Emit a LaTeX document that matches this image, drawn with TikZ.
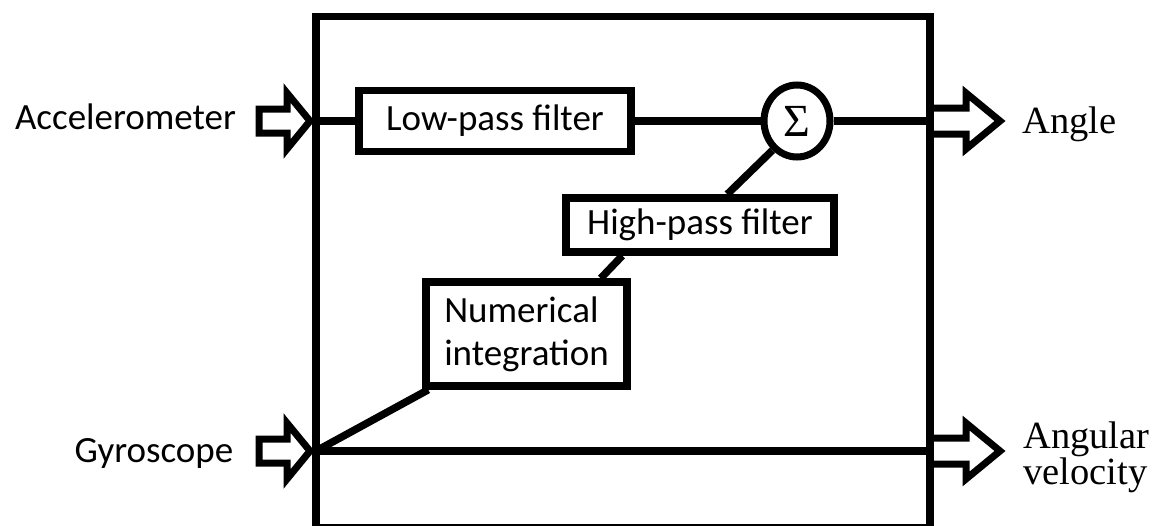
\documentclass[tikz,border=0pt]{standalone}
\usepackage{fontspec}
\setmainfont{Carlito}
\newfontfamily\serifl{Liberation Serif}
\usetikzlibrary{shapes.geometric}
\begin{document}
\begin{tikzpicture}[x=1pt,y=-1pt,
  ln/.style={line width=7.5pt},
  blk/.style={draw, line width=7.5pt, fill=white, inner sep=0pt, align=left, font=\fontsize{37pt}{43pt}\selectfont},
  lbl/.style={font=\fontsize{37pt}{44pt}\selectfont, inner sep=0pt},
  slbl/.style={font=\serifl\fontsize{38.5pt}{36pt}\selectfont, inner sep=0pt, align=left},
  inarrow/.pic={\draw[line width=7pt, line join=miter] (-57,-12) -- (-29,-12) -- (-29,-28) -- (-6,0) -- (-29,28) -- (-29,12) -- (-57,12) -- cycle;},
  outarrow/.pic={\draw[line width=7pt, line join=miter] (0,-13) -- (36,-13) -- (36,-28) -- (70,0) -- (36,28) -- (36,13) -- (0,13);}
]
\useasboundingbox (0,0) rectangle (1159,525);
\node[draw, line width=7.5pt, minimum width=614pt, minimum height=511.5pt, inner sep=0pt] (sys) at (623,272.25) {};

\node[blk, minimum width=272pt, minimum height=61pt] (lp) at (495,121) {Low-pass filter};
\node[blk, minimum width=268pt, minimum height=54pt] (hp) at (700,225) {High-pass filter};
\node[blk, minimum width=201pt, minimum height=104pt] (ni) at (526.5,334) {Numerical\\integration};
\node[draw, ellipse, line width=7pt, minimum width=66pt, minimum height=72pt, inner sep=0pt, font=\serifl\fontsize{46pt}{46pt}\selectfont] (sig) at (797,121) {Σ};

\coordinate (acc) at (316,121);
\coordinate (angout) at (930,121);
\coordinate (gyr) at (316,451);
\coordinate (avout) at (930,451);

\draw[ln] (acc) -- (lp.west);
\draw[ln] (lp.east) -- (sig.west);
\draw[ln] (sig.east) -- (angout);
\draw[ln] (gyr) -- (avout);
\draw[ln] (gyr) -- ([xshift=6pt]ni.south west);
\draw[ln] ([xshift=-30pt]ni.north east) -- ([xshift=60pt]hp.south west);
\draw[ln] ([xshift=165pt]hp.north west) -- (sig.230);

\pic at (acc) {inarrow};
\pic at (gyr) {inarrow};
\pic at (angout) {outarrow};
\pic at (avout) {outarrow};

\node[lbl, anchor=base] (acct) at (125.5,129) {Accelerometer};
\node[lbl, anchor=base] (gyrt) at (154,462) {Gyroscope};
\node[slbl, anchor=base west] (angt) at (1022,133) {Angle};
\node[slbl, anchor=west] (avt) at (1023,457) {Angular\\velocity};
\end{tikzpicture}
\end{document}
